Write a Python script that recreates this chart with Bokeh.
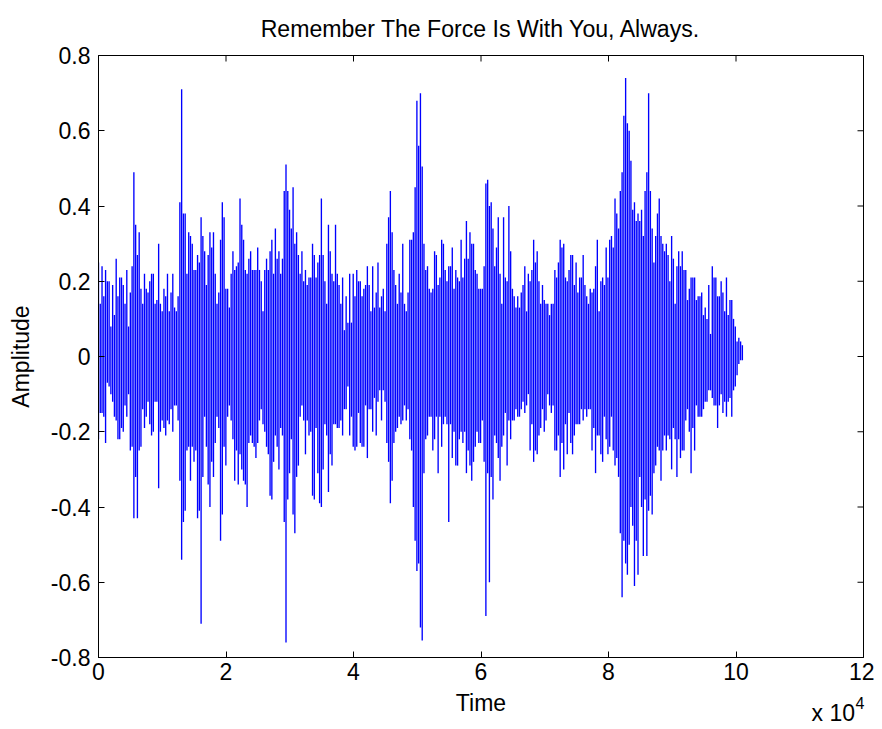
from bokeh.plotting import figure
from bokeh.models import FixedTicker, Range1d, Label
from bokeh.embed import file_html
from bokeh.resources import INLINE
import numpy as np
import math

title_text = "Remember The Force Is With You, Always."
x_label = "Time"
y_label = "Amplitude"
x_ticks = [0, 20000, 40000, 60000, 80000, 100000, 120000]
x_tick_labels = ["0", "2", "4", "6", "8", "10", "12"]
y_ticks = [-0.8, -0.6, -0.4, -0.2, 0, 0.2, 0.4, 0.6, 0.8]
y_tick_labels = ["-0.8", "-0.6", "-0.4", "-0.2", "0", "0.2", "0.4", "0.6", "0.8"]
last_time = 101000

upper_a = [.25,.14,.24,.16,.23,.2,.2,.08,.19,.11,.26,.16,.21,.21,.19,.14,.23,.08,.17,.24,.49,.35,.27,.33,.18,.14,.22,.18,.17,.2,.22,.22,.14,.15,.3,.14,.12,.18,.16,.22,.12,.17,.22,.13,.12,.16,.41,.71,.38,.38,.22,.33,.32,.3,.23,.23,.27,.25,.37,.32,.28,.19,.27,.33,.29,.33,.22,.14,.17,.31,.41,.37,.18,.18,.13,.22,.28,.23,.24,.25,.42,.35,.31,.23,.22,.26,.28,.23,.23,.23,.29,.23,.2,.12,.23,.26,.23,.28,.31,.22,.34,.26,.28,.22,.26,.44,.51,.44,.39,.34,.45,.3,.33,.27,.22,.28,.2,.23,.19,.21,.21,.3,.27,.21,.25,.27,.42,.27,.2,.14,.35,.28,.22,.2,.35,.22,.19,.14,.21,.07,.16,.09,.22,.09,.22,.16,.23,.2,.2,.16,.18,.19,.24,.19,.12,.24,.13,.17,.25,.13,.16,.18,.12,.3,.37,.44,.33,.23,.19,.14,.22,.17,.3,.14,.12,.17,.31,.31,.33,.45,.68,.56,.7]
upper_b = [.505,.3,.23,.24,.18,.17,.18,.28,.27,.19,.21,.31,.3,.23,.2,.24,.24,.29,.18,.23,.21,.2,.31,.21,.26,.36,.26,.33,.3,.3,.23,.22,.18,.18,.18,.24,.46,.47,.4,.41,.34,.24,.29,.37,.22,.14,.37,.21,.2,.4,.28,.18,.16,.13,.16,.13,.17,.19,.24,.12,.22,.2,.23,.31,.25,.28,.2,.14,.19,.15,.14,.14,.11,.14,.14,.23,.21,.25,.31,.29,.3,.21,.2,.23,.27,.27,.19,.25,.17,.21,.21,.27,.19,.16,.14,.18,.17,.18,.24,.31,.12,.2,.21,.19,.29,.21,.31,.32,.29,.42,.38,.34,.44,.49,.64,.74,.62,.6,.52,.39,.41,.36,.38,.36,.39,.32,.44,.49,.7,.44,.34,.25,.32,.38,.42,.32,.3,.28,.3,.27,.2,.32,.26,.14,.24,.28,.24,.28,.23,.23,.15,.18,.21,.21,.21,.15,.16,.16,.17,.11,.13,.1,.19,.06,.24,.21,.21,.16,.16,.2,.17,.12,.21,.11,.15,.15,.1,.08,.04,.05,.04,.03]
lower_a = [-.22,-.15,-.15,-.16,-.23,-.07,-.08,-.1,-.12,-.16,-.17,-.22,-.22,-.19,-.2,-.13,-.16,-.1,-.25,-.24,-.43,-.32,-.43,-.25,-.24,-.14,-.19,-.16,-.12,-.18,-.21,-.2,-.12,-.12,-.35,-.2,-.17,-.19,-.21,-.17,-.18,-.14,-.2,-.13,-.13,-.17,-.33,-.54,-.44,-.41,-.25,-.24,-.33,-.24,-.28,-.25,-.43,-.41,-.71,-.32,-.16,-.24,-.34,-.4,-.28,-.32,-.23,-.16,-.19,-.49,-.42,-.24,-.29,-.16,-.13,-.17,-.22,-.33,-.25,-.34,-.26,-.3,-.33,-.34,-.4,-.23,-.21,-.23,-.24,-.27,-.23,-.17,-.14,-.18,-.2,-.24,-.26,-.37,-.38,-.28,-.21,-.24,-.3,-.19,-.21,-.44,-.76,-.38,-.31,-.22,-.42,-.47,-.32,-.29,-.16,-.13,-.17,-.26,-.17,-.21,-.2,-.37,-.38,-.19,-.31,-.39,-.4,-.3,-.18,-.21,-.36,-.26,-.29,-.18,-.18,-.19,-.19,-.17,-.21,-.14,-.14,-.08,-.21,-.16,-.24,-.25,-.24,-.15,-.23,-.24,-.24,-.13,-.27,-.14,-.14,-.2,-.11,-.21,-.12,-.09,-.17,-.09,-.12,-.23,-.28,-.39,-.33,-.23,-.2,-.19,-.16,-.18,-.17,-.13,-.17,-.14,-.22,-.25,-.4,-.49,-.57,-.55,-.72]
lower_b = [-.755,-.31,-.22,-.21,-.16,-.16,-.25,-.22,-.16,-.31,-.16,-.24,-.18,-.16,-.18,-.44,-.18,-.27,-.2,-.29,-.29,-.22,-.2,-.23,-.2,-.31,-.25,-.29,-.33,-.28,-.24,-.2,-.23,-.23,-.17,-.28,-.69,-.31,-.6,-.32,-.38,-.21,-.23,-.27,-.33,-.24,-.21,-.15,-.29,-.17,-.22,-.17,-.17,-.14,-.16,-.16,-.14,-.12,-.15,-.13,-.1,-.25,-.18,-.28,-.25,-.26,-.21,-.19,-.14,-.2,-.17,-.1,-.13,-.15,-.13,-.25,-.25,-.21,-.32,-.23,-.3,-.18,-.26,-.15,-.23,-.26,-.21,-.18,-.18,-.18,-.14,-.17,-.14,-.16,-.14,-.14,-.25,-.19,-.31,-.21,-.21,-.26,-.28,-.16,-.22,-.26,-.24,-.16,-.25,-.29,-.27,-.32,-.47,-.64,-.49,-.55,-.58,-.5,-.4,-.45,-.61,-.49,-.58,-.32,-.4,-.53,-.38,-.53,-.41,-.37,-.42,-.31,-.29,-.24,-.25,-.33,-.25,-.21,-.25,-.21,-.22,-.3,-.19,-.22,-.32,-.22,-.27,-.25,-.25,-.17,-.14,-.2,-.31,-.19,-.25,-.13,-.16,-.16,-.16,-.14,-.12,-.12,-.09,-.09,-.11,-.13,-.13,-.19,-.13,-.1,-.15,-.12,-.16,-.12,-.11,-.16,-.09,-.08,-.05,-.02,-.01,-.01]

upper = upper_a + upper_b
lower = lower_a + lower_b
n = min(len(upper), len(lower))
upper = upper[:n]
lower = lower[:n]
time = np.linspace(0, last_time, n)

FONT = "Liberation Sans"
FS = "23px"
p = figure(
    frame_width=765, frame_height=602, width=874, height=725,
    x_range=Range1d(0, 120000), y_range=Range1d(-0.8, 0.8),
    output_backend="svg", toolbar_location=None,
    min_border_left=98, min_border_right=11, min_border_top=52, min_border_bottom=68,
    background_fill_color="white", border_fill_color="white",
)
p.grid.visible = False
p.outline_line_color = "#000000"
p.outline_line_width = 1

p.title.text = title_text
p.title.align = "center"
p.title.offset = -6
p.title.text_font = FONT
p.title.text_font_size = "23.1px"
p.title.text_font_style = "normal"
p.title.text_color = "#000000"
p.title.standoff = 27

p.segment(time, lower, time, upper, line_color="#0000ff", line_width=1.35)

# inward ticks on the top and right edges
p.ray(x=x_ticks, y=[0.8] * len(x_ticks), length=6, length_units="screen",
      angle=-math.pi / 2, line_color="#000000", line_width=1)
p.ray(x=[120000] * len(y_ticks), y=y_ticks, length=6, length_units="screen",
      angle=math.pi, line_color="#000000", line_width=1)


def style(ax, ticks, labels):
    ax.ticker = FixedTicker(ticks=ticks)
    ax.major_tick_in = 6
    ax.major_tick_out = 0
    ax.minor_tick_line_color = None
    ax.axis_line_color = "#000000"
    ax.major_tick_line_color = "#000000"
    ax.major_label_overrides = dict(zip(ticks, labels))
    ax.major_label_text_font = FONT
    ax.major_label_text_font_size = FS
    ax.major_label_text_color = "#000000"
    ax.axis_label_text_font = FONT
    ax.axis_label_text_font_size = FS
    ax.axis_label_text_font_style = "normal"
    ax.axis_label_text_color = "#000000"


xa = p.xaxis[0]
ya = p.yaxis[0]
style(xa, x_ticks, x_tick_labels)
style(ya, y_ticks, y_tick_labels)
xa.axis_label = x_label
ya.axis_label = y_label
xa.major_label_standoff = 5
ya.major_label_standoff = 8
xa.axis_label_standoff = 7
ya.axis_label_standoff = 14

lab1 = Label(x=713, y=19, x_units="screen", y_units="screen", text="x 10",
             text_font=FONT, text_font_size=FS, text_color="#000000")
lab2 = Label(x=757, y=48, x_units="screen", y_units="screen", text="4",
             text_font=FONT, text_font_size="16px", text_color="#000000")
p.add_layout(lab1, "below")
p.add_layout(lab2, "below")

open("out.html", "w").write(file_html(p, INLINE))
